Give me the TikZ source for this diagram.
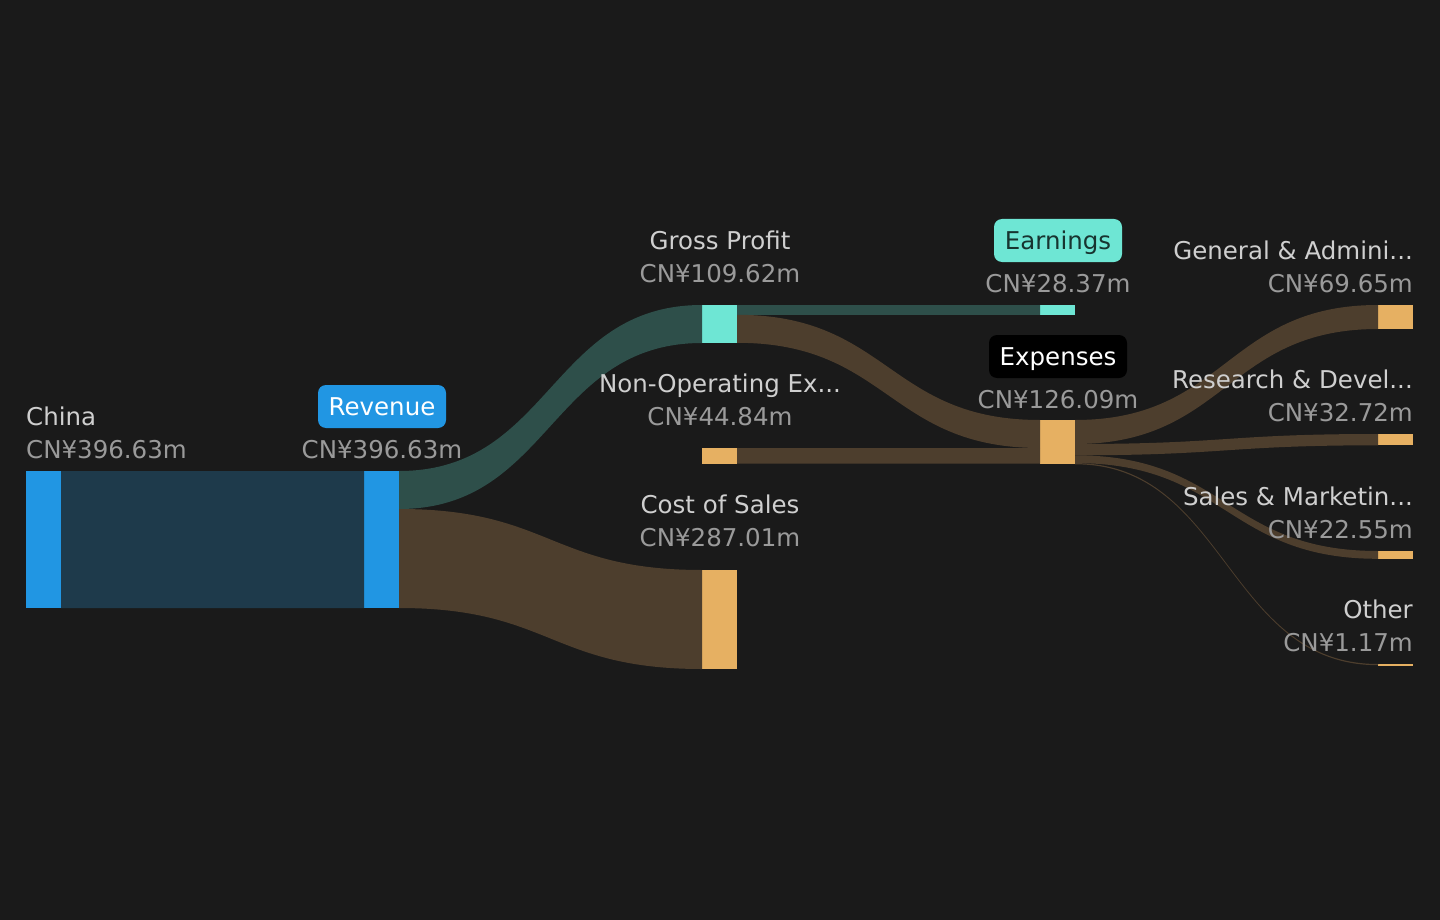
\documentclass[tikz,border=0pt]{standalone}
\usepackage{fontspec}
\setmainfont{DejaVu Sans}
\usetikzlibrary{calc}

\definecolor{bg}{HTML}{1A1A1A}
\definecolor{revblue}{HTML}{2196E3}
\definecolor{revband}{HTML}{1E3A4B}
\definecolor{profit}{HTML}{6EE6D4}
\definecolor{profitband}{HTML}{2E4F4A}
\definecolor{cost}{HTML}{E6B062}
\definecolor{costband}{HTML}{4D3E2D}
\definecolor{lbltext}{HTML}{CFCFCF}
\definecolor{valtext}{HTML}{9A9A9A}
\definecolor{tagdark}{HTML}{173430}

\tikzset{
  bar/.style={fill=#1, draw=none, inner sep=0pt, outer sep=0pt, minimum width=35pt, anchor=north west},
  bar/.default=cost,
  lbl/.style={text=lbltext, inner sep=0pt, anchor=base},
  val/.style={text=valtext, inner sep=0pt, anchor=base},
  tag/.style={fill=#1, rounded corners=8pt, minimum height=43pt, minimum width=128pt, text height=17.5pt, text depth=0pt},
}

% band from the right side of #1 to the left side of #3
\newcommand\flow[6]{%
  \fill[#6] let \p1=($(#1.north east)+(0,#2)$), \p2=($(#3.north west)+(0,#4)$),
    \p3=($(#3.north west)+(0,#4+#5)$), \p4=($(#1.north east)+(0,#2+#5)$),
    \p5=($(\p1)!.5!(\p2)$) in
    (\p1) .. controls (\x5,\y1) and (\x5,\y2) .. (\p2)
    -- (\p3) .. controls (\x5,\y3) and (\x5,\y4) .. (\p4) -- cycle;}

\begin{document}
\begin{tikzpicture}[x=1pt, y=-1pt, font=\fontsize{24.5}{29}\selectfont]
  \fill[bg] (0,0) rectangle (1440,920);

  \node[bar=revblue, minimum height=137pt] (china) at (26,471) {};
  \node[bar=revblue, minimum height=137pt] (revenue) at (364,471) {};
  \node[bar=profit, minimum height=38pt] (gp) at (702,305) {};
  \node[bar, minimum height=15.5pt] (nonop) at (702,448) {};
  \node[bar, minimum height=99pt] (cos) at (702,570) {};
  \node[bar=profit, minimum height=9.8pt] (earn) at (1040,305) {};
  \node[bar, minimum height=43.5pt] (exp) at (1040,420) {};
  \node[bar, minimum height=24pt] (ga) at (1378,305) {};
  \node[bar, minimum height=11.3pt] (rd) at (1378,434) {};
  \node[bar, minimum height=7.8pt] (sm) at (1378,551) {};
  \node[bar, minimum height=1.5pt] (oth) at (1378,664) {};

  \flow{china}{0}{revenue}{0}{137}{revband}
  \flow{revenue}{0}{gp}{0}{38}{profitband}
  \flow{revenue}{38}{cos}{0}{99}{costband}
  \flow{gp}{0}{earn}{0}{9.8}{profitband}
  \flow{gp}{9.8}{exp}{0}{28}{costband}
  \flow{nonop}{0}{exp}{28}{15.5}{costband}
  \flow{exp}{0}{ga}{0}{24}{costband}
  \flow{exp}{24}{rd}{0}{11.3}{costband}
  \flow{exp}{35.3}{sm}{0}{7.8}{costband}
  \flow{exp}{43.1}{oth}{0}{1.2}{costband}

  \node[lbl, anchor=base west] (china-lbl) at (26,425) {China};
  \node[val, anchor=base west] (china-val) at (26,458) {CN¥396.63m};
  \node[tag=revblue, text=white] (revenue-tag) at (382,406.5) {Revenue};
  \node[val] (revenue-val) at (382,458) {CN¥396.63m};
  \node[lbl] (gp-lbl) at (720,249) {Gross Profit};
  \node[val] (gp-val) at (720,282) {CN¥109.62m};
  \node[lbl] (nonop-lbl) at (720,392.5) {Non-Operating Ex...};
  \node[val] (nonop-val) at (720,425.5) {CN¥44.84m};
  \node[lbl] (cos-lbl) at (720,513.5) {Cost of Sales};
  \node[val] (cos-val) at (720,546.5) {CN¥287.01m};
  \node[tag=profit, text=tagdark] (earn-tag) at (1058,240.5) {Earnings};
  \node[val] (earn-val) at (1058,292.5) {CN¥28.37m};
  \node[tag=black, text=white, minimum width=138pt] (exp-tag) at (1058,356.5) {Expenses};
  \node[val] (exp-val) at (1058,408.5) {CN¥126.09m};
  \node[lbl, anchor=base east] (ga-lbl) at (1413,259.5) {General \& Admini...};
  \node[val, anchor=base east] (ga-val) at (1413,292.5) {CN¥69.65m};
  \node[lbl, anchor=base east] (rd-lbl) at (1413,388.5) {Research \& Devel...};
  \node[val, anchor=base east] (rd-val) at (1413,421.5) {CN¥32.72m};
  \node[lbl, anchor=base east] (sm-lbl) at (1413,505.5) {Sales \& Marketin...};
  \node[val, anchor=base east] (sm-val) at (1413,538.5) {CN¥22.55m};
  \node[lbl, anchor=base east] (oth-lbl) at (1413,618.5) {Other};
  \node[val, anchor=base east] (oth-val) at (1413,651.5) {CN¥1.17m};
\end{tikzpicture}
\end{document}
